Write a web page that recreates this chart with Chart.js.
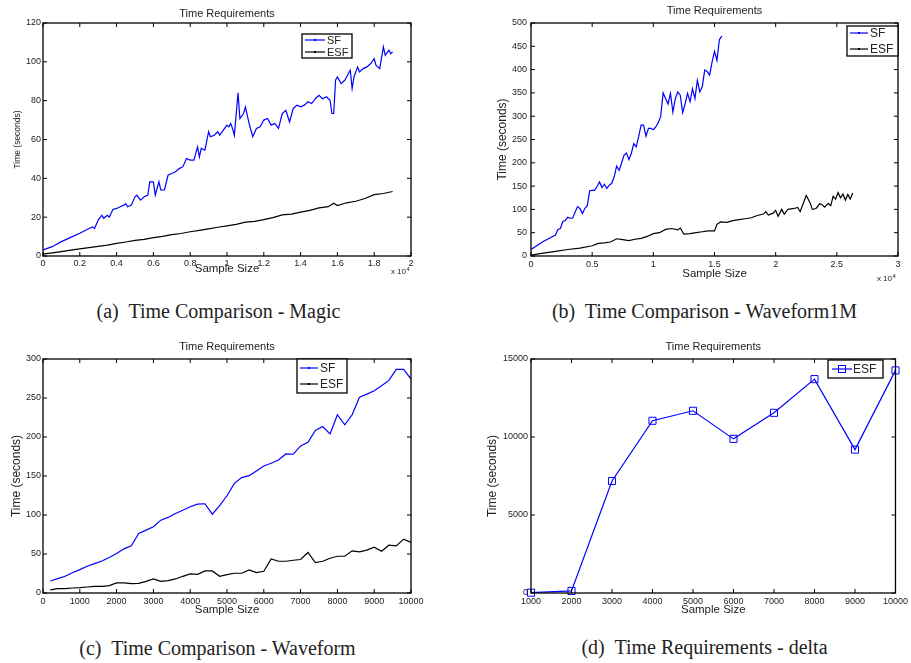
<!DOCTYPE html>
<html><head><meta charset="utf-8">
<script src="https://cdn.jsdelivr.net/npm/chart.js@4.4.0/dist/chart.umd.min.js"></script>
<style>
body{margin:0;background:#fff;width:911px;height:663px;position:relative;overflow:hidden}
canvas{position:absolute}
.cap{position:absolute;font-family:"Liberation Serif","Times New Roman",serif;font-size:20px;color:#222;white-space:pre;text-align:center;width:455px;line-height:20px}
</style></head><body>
<canvas id="ca" width="455" height="300" style="left:0;top:0"></canvas>
<canvas id="cb" width="456" height="300" style="left:455px;top:0"></canvas>
<canvas id="cc" width="455" height="300" style="left:0;top:330px"></canvas>
<canvas id="cd" width="456" height="300" style="left:455px;top:330px"></canvas>
<div class="cap" style="left:-9px;top:301px">(a)  Time Comparison - Magic</div>
<div class="cap" style="left:477px;top:301px">(b)  Time Comparison - Waveform1M</div>
<div class="cap" style="left:-10px;top:638px">(c)  Time Comparison - Waveform</div>
<div class="cap" style="left:477px;top:637px">(d)  Time Requirements - delta</div>
<script>
// ---- (a) Magic ----
const aSFx = [0,500,1000,1500,2000,2500,2700,2800,3000,3200,3300,3500,3600,3800,4000,4200,4400,4500,4600,4800,5000,5100,5300,5500,5700,5800,6000,6100,6300,6400,6600,6800,7000,7200,7400,7600,7800,8000,8200,8400,8500,8600,8800,9000,9100,9300,9500,9600,9800,10000,10100,10200,10300,10400,10600,10700,10900,11000,11200,11400,11600,11800,12000,12200,12400,12600,12800,13000,13200,13400,13600,13800,14000,14200,14400,14600,14800,15000,15200,15400,15600,15700,15800,15900,16000,16200,16400,16600,16700,16800,16900,17100,17200,17400,17600,17800,18000,18100,18300,18500,18600,18800,18900,19000];
const aSF = [3.1,4.8,7.4,9.6,11.7,14.2,15,14.2,18.5,21,19.4,21,20,24,24.5,25.4,26.2,27,25.4,26.2,30.5,31.4,28.8,30.5,31.4,38.2,38.2,31.4,38.2,34,34,41.7,42.5,43.4,45,46,50.2,49.4,49.4,56.2,51,55.4,54.5,64,61.4,62.2,64,62.2,64.8,67.4,66.5,68.3,65.7,62.2,84,70.8,73.4,76.8,68.3,61.4,65.7,66.5,70,70.8,67.4,68.3,65.7,73.4,75,69,76,77.7,76.8,77.7,79.4,78.5,81,82.8,81,82,80.2,73.4,73.4,90.5,92.2,88.8,90.5,94,95.7,86.2,92.2,97.4,94.8,96.5,97.4,99,101.7,98.2,96.5,107.7,103.4,106,104.2,105.1];
const aESFx = [0,500,1000,1500,2000,2500,3000,3500,4000,4500,5000,5500,6000,6500,7000,7500,8000,8500,9000,9500,10000,10500,11000,11500,12000,12500,13000,13500,14000,14500,15000,15500,15800,16000,16500,17000,17500,18000,18500,19000];
const aESF = [1,1.6,2.3,3,3.7,4.3,5,5.6,6.5,7.2,8,8.6,9.5,10.1,11,11.6,12.5,13.2,14,14.8,15.5,16.3,17.4,17.8,18.7,19.8,21.2,21.6,22.6,23.5,24.8,25.4,27.2,26,27.4,28.2,29.6,31.6,32.2,33.2];
const aXTicks = {min:0, max:20000, step:2000};
const aYTicks = {min:0, max:120, step:20};

// ---- (b) Waveform1M ----
const bSFx = [0,1000,2000,2200,2400,2600,2800,3000,3200,3400,3800,4000,4200,4400,4600,4800,5000,5200,5400,5600,5800,6000,6200,6400,6600,6800,7000,7200,7400,7600,7800,8000,8200,8400,8600,8800,9000,9200,9400,9600,9800,10000,10200,10400,10600,10800,11000,11200,11400,11600,11800,12000,12200,12400,12600,12800,13000,13200,13400,13600,13800,14000,14200,14400,14600,14800,15000,15200,15400,15600];
const bSF = [14,31,45,57,59,74,76,83,81,81,106,102,91,102,108,140,141,141,149,159,147,154,145,152,156,170,193,184,199,216,221,207,220,241,234,256,281,281,257,274,274,271,277,286,299,350,338,326,349,309,338,352,345,308,327,349,331,359,338,377,352,363,399,396,388,416,439,420,464,472];
const bESFx = [0,1000,2000,3000,4000,5000,5500,6000,6500,7000,7500,8000,8500,9000,9500,10000,10500,11000,11500,12000,12200,12500,13000,13500,14000,14500,15000,15200,15500,16000,16500,17000,17500,18000,18500,19000,19200,19400,19800,20000,20200,20500,20700,21000,21500,21800,22000,22500,22800,23000,23300,23600,23800,24000,24300,24500,24700,24900,25100,25300,25500,25700,25900,26100,26300];
const bESF = [2,6,10,14,17,22,27,28,30,37,35,33,36,38,42,48,50,57,59,56,60,47,48,50,52,54,54,68,73,72,76,78,80,82,87,90,95,88,92,98,85,100,90,100,102,104,95,130,115,100,102,112,110,105,113,108,128,122,136,125,133,120,132,122,135];
const bXTicks = {min:0, max:30000, step:5000};
const bYTicks = {min:0, max:500, step:50};

// ---- (c) Waveform ----
const cX = [200,400,600,800,1000,1200,1400,1600,1800,2000,2200,2400,2600,2800,3000,3200,3400,3600,3800,4000,4200,4400,4600,4800,5000,5200,5400,5600,5800,6000,6200,6400,6600,6800,7000,7200,7400,7600,7800,8000,8200,8400,8600,8800,9000,9200,9400,9600,9800,10000];
const cSF = [15.4,18.4,21.4,26,30,34.3,37.7,41,45.4,50.6,56.6,60.4,76.3,80.6,84.9,93.4,96.9,102,106,110.6,114,114.4,101,112,124.7,140.6,148,150.4,156.4,162.9,166.3,170.6,178.3,177.9,188.6,193.3,208.3,213.4,204,228.5,215.6,228.5,251,255,259.3,265.7,272.6,286.8,286.8,274.3];
const cESF = [4,5.6,5.6,6.4,6.9,7.7,8.6,8.6,9.4,12.9,12.9,12,12.4,15,18,15,15.9,18,21.4,24.4,24,28.3,28.3,21.4,23.6,25.3,25.3,29.6,26.1,27.9,43.7,40.7,40.7,42,42.9,51.9,39,40.7,44.6,47.1,47.1,54,52.7,54.9,58.7,53.6,61.3,60.4,69,64.7];
const cXTicks = {min:0, max:10000, step:1000};
const cYTicks = {min:0, max:300, step:50};

// ---- (d) delta ----
const dX = [1000,2000,3000,4000,5000,6000,7000,8000,9000,10000];
const dESF = [20,130,7180,11040,11680,9880,11550,13710,9190,14270];
const dXTicks = {min:1000, max:10000, step:1000};
const dYTicks = {min:0, max:15000, step:5000};

const FONT = '"Liberation Sans", Arial, Helvetica, sans-serif';
const TXT = '#222';
const BLUE = '#0000ff';

function pts(xs, ys){ return xs.map((x,i)=>({x:x, y:ys[i]})); }

const matlab = {
  id:'matlab',
  afterDatasetsDraw(chart, args, o){
    const ctx = chart.ctx, ca = chart.chartArea, sx = chart.scales.x, sy = chart.scales.y;
    ctx.save();
    ctx.strokeStyle = '#000'; ctx.lineWidth = 1;
    const t = 4;
    ctx.beginPath();
    sx.ticks.forEach(k=>{ const p = sx.getPixelForValue(k.value);
      ctx.moveTo(p, ca.bottom); ctx.lineTo(p, ca.bottom - t);
      ctx.moveTo(p, ca.top); ctx.lineTo(p, ca.top + t); });
    sy.ticks.forEach(k=>{ const p = sy.getPixelForValue(k.value);
      ctx.moveTo(ca.left, p); ctx.lineTo(ca.left + t, p);
      ctx.moveTo(ca.right, p); ctx.lineTo(ca.right - t, p); });
    ctx.stroke();
    ctx.lineWidth = 1.3;
    ctx.strokeRect(ca.left, ca.top, ca.right - ca.left, ca.bottom - ca.top);
    ctx.fillStyle = TXT; ctx.textAlign = 'center'; ctx.textBaseline = 'middle';
    const cx = (ca.left + ca.right) / 2;
    ctx.font = o.titleSize + 'px ' + FONT; ctx.fillText(o.title, cx, o.titleY);
    ctx.font = o.xlabelSize + 'px ' + FONT; ctx.fillText(o.xlabel, cx, o.xlabelY);
    ctx.save(); ctx.translate(o.ylabelX, (ca.top + ca.bottom) / 2); ctx.rotate(-Math.PI/2);
    ctx.font = o.ylabelSize + 'px ' + FONT; ctx.fillText(o.ylabel, 0, 0); ctx.restore();
    if (o.exp) {
      ctx.textAlign = 'right'; ctx.font = '8px ' + FONT; ctx.fillText('x 10', o.exp.x, o.exp.y);
      ctx.textAlign = 'left'; ctx.font = '6px ' + FONT; ctx.fillText('4', o.exp.x + 0.5, o.exp.y - 3);
    }
    const L = o.legend;
    ctx.fillStyle = '#fff'; ctx.fillRect(L.x, L.y, L.w, L.h);
    ctx.lineWidth = 1.3; ctx.strokeStyle = '#000'; ctx.strokeRect(L.x, L.y, L.w, L.h);
    chart.data.datasets.forEach((ds, i)=>{
      const yy = L.rows[i];
      ctx.strokeStyle = ds.borderColor; ctx.lineWidth = 1.2;
      ctx.beginPath(); ctx.moveTo(L.l0, yy); ctx.lineTo(L.l1, yy); ctx.stroke();
      const mx = (L.l0 + L.l1) / 2;
      if (L.square) { ctx.lineWidth = 1; ctx.strokeRect(mx - 3.5, yy - 3.5, 7, 7); }
      else { ctx.fillStyle = ds.borderColor; ctx.fillRect(mx - 1, yy - 1, 2, 2); }
      ctx.fillStyle = TXT; ctx.textAlign = 'left'; ctx.textBaseline = 'middle';
      ctx.font = L.size + 'px ' + FONT; ctx.fillText(ds.label, L.tx, yy + 0.5);
    });
    ctx.restore();
  }
};

function fmtE4(v){ return String(Math.round(v/1000)/10); }

function makeChart(id, datasets, xt, yt, lay, xcb, mo){
  return new Chart(document.getElementById(id), {
    type:'line',
    data:{datasets:datasets},
    options:{
      responsive:false, animation:false, devicePixelRatio:1,
      layout:{padding:{left:0, top:lay.top, right:lay.right, bottom:0}},
      plugins:{legend:{display:false}, tooltip:{enabled:false}, title:{display:false}, matlab:mo},
      elements:{line:{tension:0}},
      scales:{
        x:{type:'linear', min:xt.min, max:xt.max,
           afterFit(s){ s.height = lay.xh; },
           grid:{display:false, drawTicks:false}, border:{display:false},
           ticks:{stepSize:xt.step, autoSkip:false, maxRotation:0, minRotation:0, padding:lay.xpad,
                  color:TXT, font:{family:FONT, size:9}, callback:xcb}},
        y:{type:'linear', min:yt.min, max:yt.max,
           afterFit(s){ s.width = lay.yw; },
           grid:{display:false, drawTicks:false}, border:{display:false},
           ticks:{stepSize:yt.step, autoSkip:false, padding:lay.ypad,
                  color:TXT, font:{family:FONT, size:9}, callback:v=>String(v)}}
      }
    },
    plugins:[matlab]
  });
}

function lineDs(label, data, color){
  return {label:label, data:data, borderColor:color, backgroundColor:color, borderWidth:1.2, pointRadius:0, fill:false};
}

makeChart('ca',
  [lineDs('SF', pts(aSFx, aSF), BLUE), lineDs('ESF', pts(aESFx, aESF), '#000')],
  aXTicks, aYTicks, {top:23, right:44, yw:43, xh:44, xpad:2, ypad:2}, fmtE4,
  {title:'Time Requirements', titleSize:11, titleY:14, xlabel:'Sample Size', xlabelSize:11.5, xlabelY:269,
   ylabel:'Time (seconds)', ylabelSize:8.5, ylabelX:18, exp:{x:406, y:272},
   legend:{x:302, y:34, w:50, h:24, rows:[40,52], l0:305, l1:325, tx:327, size:11}});

makeChart('cb',
  [lineDs('SF', pts(bSFx, bSF), BLUE), lineDs('ESF', pts(bESFx, bESF), '#000')],
  bXTicks, bYTicks, {top:23, right:13, yw:76, xh:44, xpad:3, ypad:4}, fmtE4,
  {title:'Time Requirements', titleSize:11, titleY:11, xlabel:'Sample Size', xlabelSize:11.5, xlabelY:274,
   ylabel:'Time (seconds)', ylabelSize:12, ylabelX:48, exp:{x:437, y:279},
   legend:{x:392, y:26, w:51, h:30, rows:[33,49], l0:395, l1:413, tx:415, size:12}});

makeChart('cc',
  [lineDs('SF', pts(cX, cSF), BLUE), lineDs('ESF', pts(cX, cESF), '#000')],
  cXTicks, cYTicks, {top:29, right:44, yw:43, xh:37, xpad:3, ypad:2}, v=>String(v),
  {title:'Time Requirements', titleSize:11, titleY:17, xlabel:'Sample Size', xlabelSize:11.5, xlabelY:280,
   ylabel:'Time (seconds)', ylabelSize:12, ylabelX:17,
   legend:{x:297, y:29, w:50, h:34, rows:[38,54], l0:300, l1:318, tx:320, size:12}});

const dDs = lineDs('ESF', pts(dX, dESF), BLUE);
dDs.pointRadius = 5; dDs.pointStyle = 'rect'; dDs.pointBorderColor = BLUE;
dDs.pointBackgroundColor = 'rgba(0,0,0,0)'; dDs.pointBorderWidth = 1; dDs.clip = false;
makeChart('cd',
  [dDs],
  dXTicks, dYTicks, {top:29, right:13, yw:76, xh:37, xpad:3, ypad:3}, v=>String(v),
  {title:'Time Requirements', titleSize:11, titleY:17, xlabel:'Sample Size', xlabelSize:11.5, xlabelY:280,
   ylabel:'Time (seconds)', ylabelSize:12, ylabelX:38,
   legend:{x:373, y:30, w:55, h:18, rows:[39], l0:377, l1:397, tx:398, size:12, square:true}});
</script>
</body></html>
